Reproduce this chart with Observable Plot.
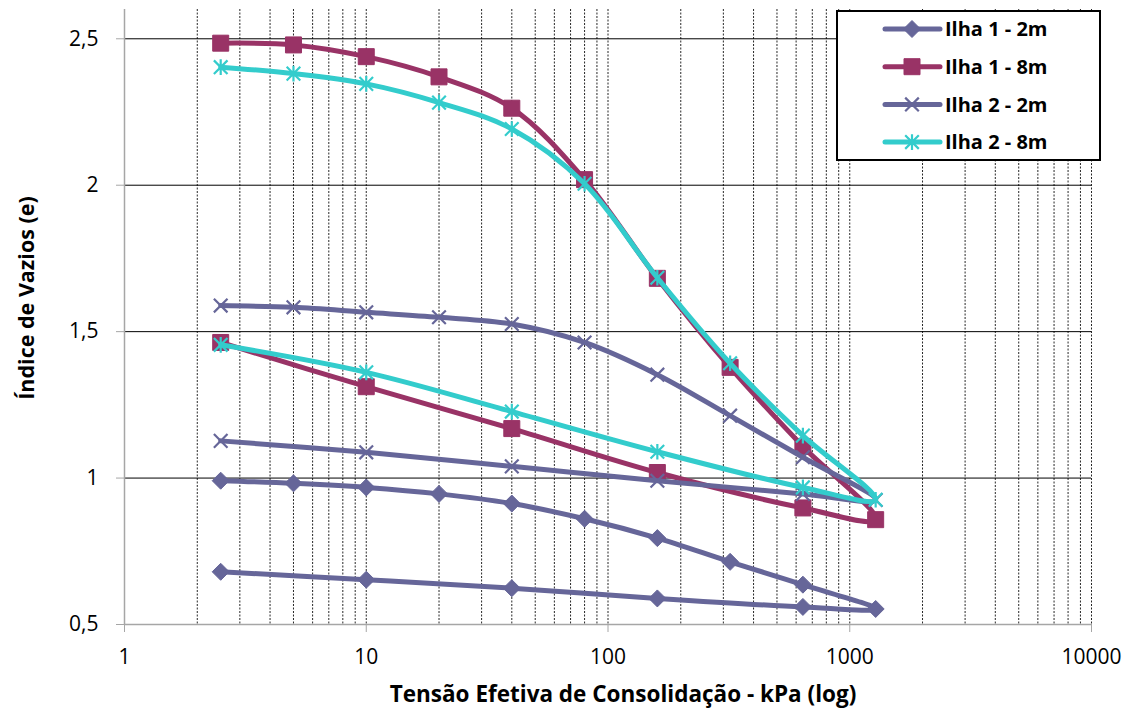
<!DOCTYPE html>
<html>
<head>
<meta charset="utf-8">
<script src="https://cdn.jsdelivr.net/npm/d3@7"></script>
<script src="https://cdn.jsdelivr.net/npm/@observablehq/plot@0.6"></script>
<style>
  html, body { margin: 0; padding: 0; background: #fff; }
  #chart { width: 1134px; height: 711px; font-family: "Open Sans", sans-serif; }
</style>
</head>
<body>
<div id="chart"></div>
<script>
// Effective consolidation stress (kPa) for the loading and unloading stages
const stressLoading = [2.5, 5, 10, 20, 40, 80, 160, 320, 640, 1280];
const stressUnloading = [640, 160, 40, 10, 2.5];

// Void ratio e at each stage, per sample
const ilha1_2m_load = [0.991, 0.982, 0.968, 0.946, 0.913, 0.861, 0.795, 0.714, 0.636, 0.553];
const ilha1_2m_unload = [0.560, 0.589, 0.624, 0.653, 0.680];
const ilha1_8m_load = [2.485, 2.479, 2.439, 2.370, 2.263, 2.019, 1.682, 1.378, 1.108, 0.858];
const ilha1_8m_unload = [0.898, 1.019, 1.169, 1.312, 1.463];
const ilha2_2m_load = [1.589, 1.583, 1.566, 1.549, 1.526, 1.463, 1.353, 1.213, 1.071, 0.925];
const ilha2_2m_unload = [0.946, 0.991, 1.040, 1.088, 1.127];
const ilha2_8m_load = [2.403, 2.381, 2.346, 2.282, 2.192, 2.005, 1.684, 1.392, 1.145, 0.926];
const ilha2_8m_unload = [0.968, 1.090, 1.227, 1.361, 1.455];

const seriesNames = ["Ilha 1 - 2m", "Ilha 1 - 8m", "Ilha 2 - 2m", "Ilha 2 - 8m"];
const seriesColors = ["#666699", "#993366", "#666699", "#33cccc"];

const xTicks = [1, 10, 100, 1000, 10000];
const yTicks = [0.5, 1, 1.5, 2, 2.5];
const yGrid = [1, 1.5, 2, 2.5];

// Minor log grid: 2..10 within every decade from 1 to 10000
const xGrid = [];
for (let k = 0; k < 4; k++) for (let m = 2; m <= 10; m++) xGrid.push(m * 10 ** k);

// Marker shapes (size = pi * r^2, as passed by Plot.dot)
const half = size => Math.sqrt(size / Math.PI);
const diamond = { draw(c, s) { const r = half(s); c.moveTo(0, -r); c.lineTo(r, 0); c.lineTo(0, r); c.lineTo(-r, 0); c.closePath(); } };
const square = { draw(c, s) { const r = half(s); c.rect(-r, -r, 2 * r, 2 * r); } };
const cross = { draw(c, s) { const r = half(s); c.moveTo(-r, -r); c.lineTo(r, r); c.moveTo(-r, r); c.lineTo(r, -r); } };
const star = { draw(c, s) { const r = half(s); c.moveTo(-r, -r); c.lineTo(r, r); c.moveTo(-r, r); c.lineTo(r, -r); c.moveTo(0, -r * 1.15); c.lineTo(0, r * 1.15); } };

const markers = [
  { symbol: diamond, r: 8.5, filled: true },
  { symbol: square, r: 8, filled: true },
  { symbol: cross, r: 6.8, filled: false },
  { symbol: star, r: 6.8, filled: false }
];

const seriesValues = [
  [ilha1_2m_load, ilha1_2m_unload],
  [ilha1_8m_load, ilha1_8m_unload],
  [ilha2_2m_load, ilha2_2m_unload],
  [ilha2_8m_load, ilha2_8m_unload]
];

// Each sample forms one path: loading out to 1280 kPa, then unloading back
const seriesData = seriesValues.map(([load, unload], i) => [
  ...stressLoading.map((s, j) => ({ name: seriesNames[i], stress: s, e: load[j] })),
  ...stressUnloading.map((s, j) => ({ name: seriesNames[i], stress: s, e: unload[j] }))
]);

const seriesMarks = seriesData.flatMap((data, i) => {
  const m = markers[i];
  const color = seriesColors[i];
  return [
    Plot.line(data, { x: "stress", y: "e", stroke: color, strokeWidth: 5, curve: "catmull-rom" }),
    Plot.dot(data, {
      x: "stress", y: "e", symbol: m.symbol, r: m.r,
      fill: m.filled ? color : "none", stroke: color, strokeWidth: m.filled ? 1 : 2.2
    })
  ];
});

const fmtComma = d => String(d).replace(".", ",");
const FONT = "'Open Sans', sans-serif";

const plot = Plot.plot({
  width: 1134,
  height: 711,
  marginLeft: 124,
  marginRight: 43,
  marginTop: 9,
  marginBottom: 87,
  style: { fontFamily: FONT, fontSize: "21px", background: "#fff", overflow: "visible" },
  x: { type: "log", domain: [1, 10000] },
  y: { domain: [0.5, 2.6] },
  marks: [
    Plot.ruleX(xGrid, { stroke: "#000", strokeWidth: 1, strokeDasharray: "2,1.5", strokeOpacity: 0.85 }),
    Plot.ruleY(yGrid, { stroke: "#000", strokeWidth: 1 }),
    Plot.ruleX([1], { stroke: "#a6a6a6", strokeWidth: 1.5 }),
    Plot.ruleY([0.5], { stroke: "#a6a6a6", strokeWidth: 1.5 }),
    Plot.axisX(xTicks, {
      tickSize: 8, tickPadding: 17, stroke: "#a6a6a6", fill: "#000",
      fontSize: 21, tickFormat: d => String(d), label: null
    }),
    Plot.axisY(yTicks, {
      tickSize: 8, tickPadding: 18, stroke: "#a6a6a6", fill: "#000",
      fontSize: 21, tickFormat: fmtComma, label: null
    }),
    Plot.text(["Tensão Efetiva de Consolidação - kPa (log)"], {
      frameAnchor: "bottom", textAnchor: "middle", lineAnchor: "middle",
      dx: 15, dy: 70, fontSize: 22.5, fontWeight: "bold", fill: "#000"
    }),
    Plot.text(["Índice de Vazios (e)"], {
      frameAnchor: "left", textAnchor: "middle", lineAnchor: "middle", rotate: -90,
      dx: -97, dy: -19, fontSize: 21.5, fontWeight: "bold", fill: "#000"
    }),
    ...seriesMarks
  ]
});

document.getElementById("chart").appendChild(plot);

// Legend box in the upper right corner
const svg = d3.select(plot);
const legend = svg.append("g").attr("font-family", FONT);
legend.append("rect")
  .attr("x", 837).attr("y", 11).attr("width", 263).attr("height", 149)
  .attr("fill", "#fff").attr("stroke", "#000").attr("stroke-width", 2);

seriesNames.forEach((name, i) => {
  const y = 29 + i * 37.7;
  const m = markers[i];
  const color = seriesColors[i];
  const row = legend.append("g");
  row.append("line")
    .attr("x1", 885).attr("x2", 940).attr("y1", y).attr("y2", y)
    .attr("stroke", color).attr("stroke-width", 5).attr("stroke-linecap", "round");
  row.append("path")
    .attr("d", d3.symbol(m.symbol, Math.PI * m.r * m.r)())
    .attr("transform", `translate(912,${y})`)
    .attr("fill", m.filled ? color : "none")
    .attr("stroke", color).attr("stroke-width", m.filled ? 1 : 2.2);
  row.append("text")
    .attr("x", 945).attr("y", y).attr("dy", "0.36em")
    .attr("text-anchor", "start")
    .attr("font-size", 20).attr("font-weight", "bold").attr("fill", "#000")
    .text(name);
});
</script>
</body>
</html>
